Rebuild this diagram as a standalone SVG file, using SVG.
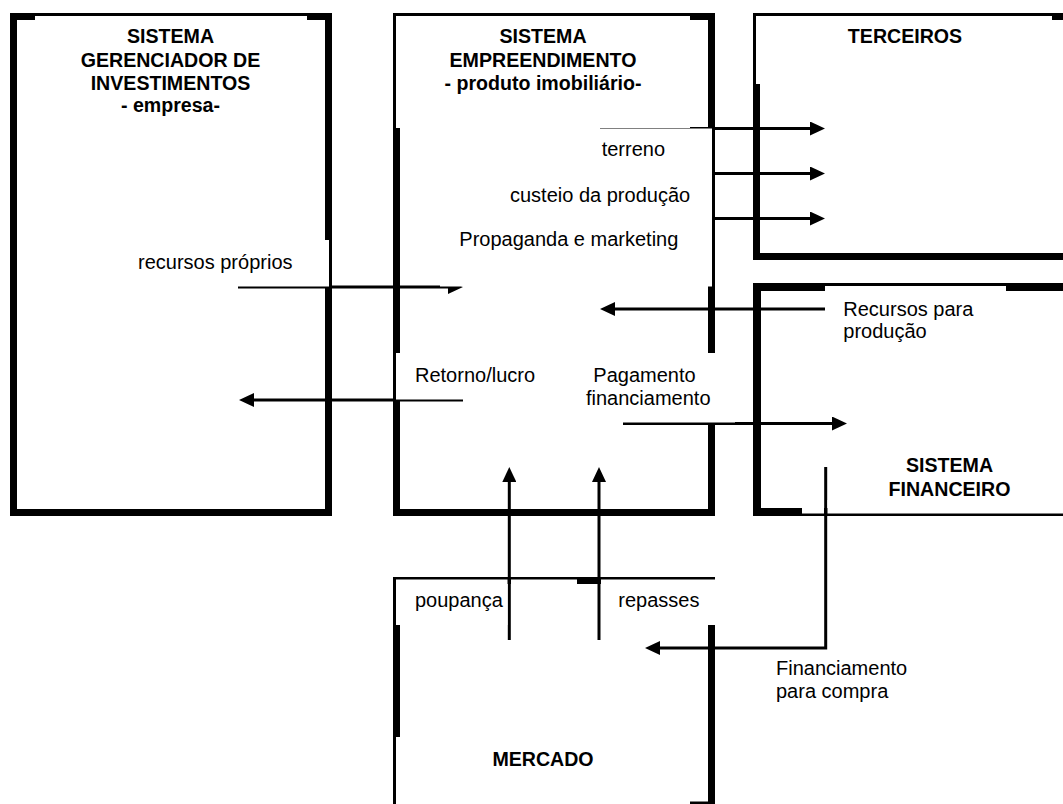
<svg xmlns="http://www.w3.org/2000/svg" width="1063" height="804" viewBox="0 0 1063 804">
  <style>
    .frame { fill: none; stroke: #000; stroke-width: 7; }
    .frame8 { fill: none; stroke: #000; stroke-width: 8; }
    .mask { fill: #fff; stroke: none; }
    .flow { fill: none; stroke: #000; stroke-width: 3; marker-end: url(#head); }
    .title { font-family: "Liberation Sans", Arial, sans-serif; font-size: 19.6px; font-weight: bold; fill: #000; text-anchor: middle; }
    .lbl { font-family: "Liberation Sans", Arial, sans-serif; font-size: 20px; fill: #000; }
  </style>
  <defs>
    <marker id="head" markerUnits="userSpaceOnUse" markerWidth="16" markerHeight="14" refX="0.5" refY="7" orient="auto">
      <path d="M0,0 L15,7 L0,14 Z" fill="#000"/>
    </marker>
  </defs>

  <rect width="1063" height="804" fill="#fff"/>

  <!-- flows between the systems -->
  <g id="connectors">
    <path class="flow" d="M238,287 H448.5"/>
    <path class="flow" d="M463,400 H253.5"/>
    <path class="flow" d="M600,128.5 H810.5"/>
    <path class="flow" d="M600,173.5 H810.5"/>
    <path class="flow" d="M600,218.5 H810.5"/>
    <path class="flow" d="M825,309 H614.5"/>
    <path class="flow" d="M623,423.5 H832.5"/>
    <path class="flow" d="M509.3,640 V481.5"/>
    <path class="flow" d="M599,640 V481.5"/>
    <path class="flow" d="M825.7,467 V648 H659.5"/>
  </g>

  <!-- investment management system -->
  <g id="node-gerenciador">
    <rect class="frame" x="13.5" y="16.5" width="315" height="496"/>
    <rect class="mask" x="35" y="16" width="272" height="104"/>
    <rect class="mask" x="130" y="240" width="199" height="46.5"/>
    <text class="title" x="170.5" y="43.3">SISTEMA</text>
    <text class="title" x="170.5" y="66.7">GERENCIADOR DE</text>
    <text class="title" x="170.5" y="90">INVESTIMENTOS</text>
    <text class="title" x="170.5" y="112">- empresa-</text>
  </g>

  <!-- real estate venture -->
  <g id="node-empreendimento">
    <rect class="frame" x="396.5" y="16.5" width="315" height="496"/>
    <rect class="mask" x="396" y="16" width="294" height="112"/>
    <rect class="mask" x="440" y="128.5" width="272" height="158"/>
    <rect class="mask" x="396" y="353" width="164" height="46.5"/>
    <rect class="mask" x="580" y="353" width="155" height="69.5"/>
    <text class="title" x="543" y="43.3">SISTEMA</text>
    <text class="title" x="543" y="66.7">EMPREENDIMENTO</text>
    <text class="title" x="543" y="90">- produto imobiliário-</text>
  </g>

  <!-- third parties -->
  <g id="node-terceiros">
    <rect class="frame" x="756.5" y="16.5" width="320" height="240"/>
    <rect class="mask" x="756" y="16" width="296" height="68"/>
    <text class="title" x="905" y="43.3">TERCEIROS</text>
  </g>

  <!-- financial system -->
  <g id="node-financeiro">
    <rect class="frame8" x="757" y="287" width="320" height="225"/>
    <rect class="mask" x="825" y="286" width="181" height="44"/>
    <rect class="mask" x="802" y="500" width="22" height="13.5"/>
    <rect class="mask" x="827.5" y="500" width="250" height="13.5"/>
    <text class="title" x="949.5" y="471.7">SISTEMA</text>
    <text class="title" x="949.5" y="496">FINANCEIRO</text>
  </g>

  <!-- market -->
  <g id="node-mercado">
    <rect class="frame" x="396.5" y="580.5" width="315" height="224.5"/>
    <rect class="mask" x="396" y="579.5" width="111.5" height="45.5"/>
    <rect class="mask" x="511" y="579.5" width="66" height="45.5"/>
    <rect class="mask" x="601" y="579.5" width="120" height="45.5"/>
    <rect class="mask" x="396" y="737" width="294" height="70"/>
    <text class="title" x="543" y="766">MERCADO</text>
  </g>

  <!-- flow labels -->
  <g id="flow-labels" class="lbl">
    <text x="601.7" y="156">terreno</text>
    <text x="510" y="201.5">custeio da produção</text>
    <text x="459.3" y="246">Propaganda e marketing</text>
    <text x="138" y="269">recursos próprios</text>
    <text x="415" y="381.7">Retorno/lucro</text>
    <text x="593.3" y="381.7">Pagamento</text>
    <text x="586" y="405">financiamento</text>
    <text x="843.3" y="315.5">Recursos para</text>
    <text x="843.3" y="338">produção</text>
    <text x="415" y="606.7">poupança</text>
    <text x="618.3" y="606.7">repasses</text>
    <text x="776" y="675">Financiamento</text>
    <text x="776" y="698">para compra</text>
  </g>
</svg>
